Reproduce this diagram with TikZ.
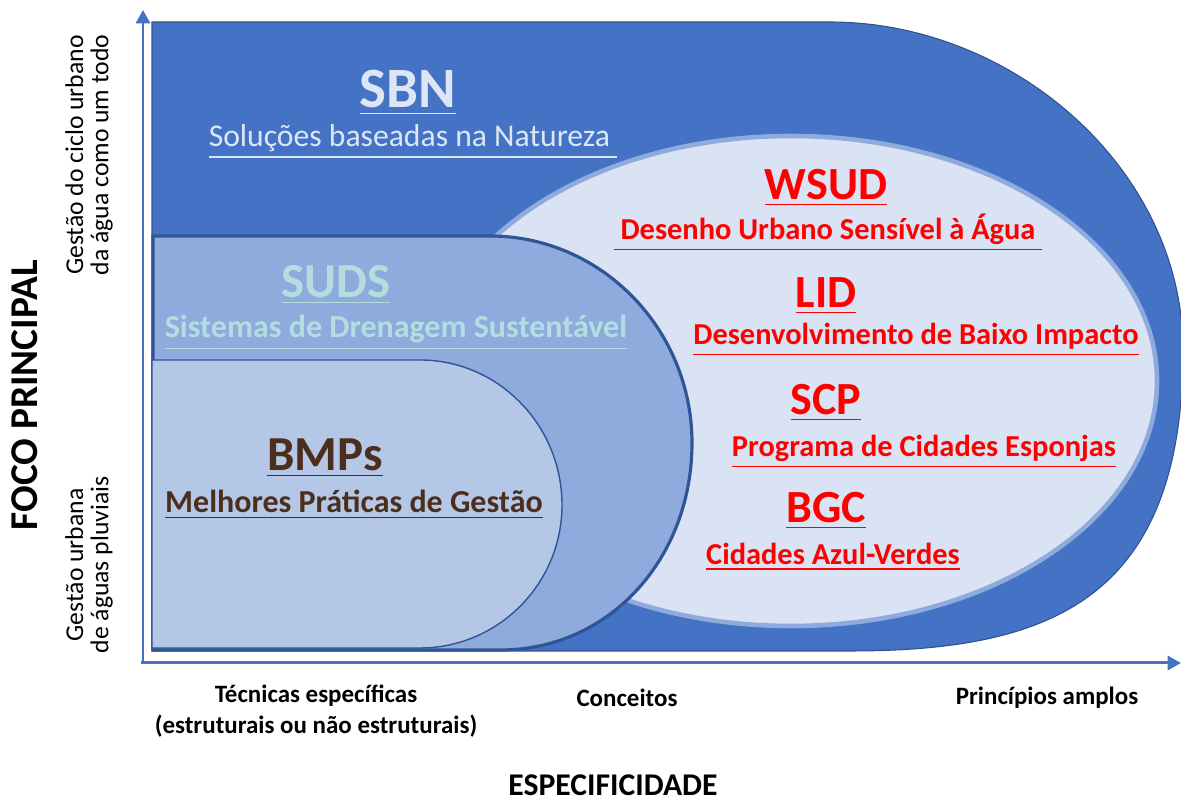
\documentclass[tikz,border=0pt]{standalone}
\usepackage{fontspec}
\setmainfont{Carlito}
\usetikzlibrary{arrows.meta, positioning}
\definecolor{sbnblue}{HTML}{4472C4}
\definecolor{sbnedge}{HTML}{2F528F}
\definecolor{sudsfill}{HTML}{8FAADC}
\definecolor{sudsedge}{HTML}{2F5597}
\definecolor{bmpsfill}{HTML}{B4C7E7}
\definecolor{wsudfill}{HTML}{DAE3F3}
\definecolor{wsudedge}{HTML}{8FAADC}
\definecolor{sbntext}{HTML}{DDE6F5}
\definecolor{sudstext}{HTML}{B3DEE0}
\definecolor{bmpstext}{HTML}{4B2E1B}
\tikzset{
    bigtitle/.style={font=\fontsize{16.2}{18}\selectfont\bfseries, inner sep=0pt},
    midtitle/.style={font=\fontsize{13.9}{16}\selectfont\bfseries, inner sep=0pt},
    redtitle/.style={font=\fontsize{13.1}{15}\selectfont\bfseries, text=red, inner sep=0pt},
    subtitle/.style={font=\fontsize{9.1}{11}\selectfont\bfseries, inner sep=0pt},
    redsub/.style={subtitle, font=\fontsize{8.65}{10}\selectfont\bfseries, text=red},
    axislabel/.style={font=\fontsize{7.1}{8.9}\selectfont\bfseries, align=center, inner sep=0pt},
    sidelabel/.style={font=\fontsize{7.3}{7.2}\selectfont, align=center, rotate=90, inner sep=0pt},
    axisline/.style={draw=sbnblue, line width=0.85pt, -{Triangle[length=3.8pt, width=4pt]}},
}
\begin{document}
\begin{tikzpicture}[x=0.01cm, y=-0.01cm]
    \useasboundingbox (0,0) rectangle (1181,798);

    % SBN
    \filldraw[fill=sbnblue, draw=sbnedge, line width=0.3pt] (152,22) -- (830,22)
        .. controls (1014,22) and (1183,170) .. (1183,350)
        .. controls (1183,600) and (1050,651) .. (850,651) -- (152,651) -- cycle;

    % WSUD / LID / SCP / BGC
    \filldraw[fill=wsudfill, draw=wsudedge, line width=1.3pt] (791,381) ellipse [x radius=366, y radius=245];

    % SUDS
    \filldraw[fill=sudsfill, draw=sudsedge, line width=0.9pt] (153,236) -- (490,236)
        .. controls (601,236) and (692,329) .. (692,443)
        .. controls (692,557) and (611,650) .. (500,650) -- (153,650) -- cycle;

    % BMPs
    \filldraw[fill=bmpsfill, draw=sudsedge, line width=0.4pt] (152,360) -- (420,360)
        .. controls (498,360) and (562,425) .. (562,505)
        .. controls (562,584) and (498,648) .. (420,648) -- (152,648) -- cycle;

    \node[bigtitle, text=sbntext] (sbn) at (408,93) {\underline{SBN}};
    \node[font=\fontsize{9}{11}\selectfont, text=sbntext, inner sep=0pt] (sbnsub) at (413,142) {\underline{Soluções baseadas na Natureza\ }};

    \node[midtitle, text=sudstext] (suds) at (336,285) {\underline{SUDS}};
    \node[subtitle, text=sudstext] (sudssub) at (396,333) {\underline{Sistemas de Drenagem Sustentável}};

    \node[midtitle, text=bmpstext] (bmps) at (325,458) {\underline{BMPs}};
    \node[subtitle, text=bmpstext] (bmpssub) at (354,505) {\underline{Melhores Práticas de Gestão}};

    \node[redtitle] (wsud) at (826,188) {\underline{WSUD}};
    \node[redsub] (wsudsub) at (828,233) {\underline{\ Desenho Urbano Sensível à Água\ }};
    \node[redtitle] (lid) at (826,296) {\underline{LID}};
    \node[redsub] (lidsub) at (916,340) {\underline{Desenvolvimento de Baixo Impacto}};
    \node[redtitle] (scp) at (826,403) {\underline{SCP}};
    \node[redsub] (scpsub) at (924,452) {\underline{Programa de Cidades Esponjas}};
    \node[redtitle] (bgc) at (826,511) {\underline{BGC}};
    \node[redsub] (bgcsub) at (833,557) {\underline{Cidades Azul-Verdes}};

    % eixos
    \coordinate (origin) at (143,663);
    \coordinate (ytip) at (143,10);
    \coordinate (xtip) at (1181,663);
    \draw[axisline] (origin) -- (ytip);
    \draw[axisline] ([xshift=-0.5pt]origin) -- (xtip);

    \node[axislabel] (tecnicas) at (316,711) {Técnicas específicas\\(estruturais ou não estruturais)};
    \node[axislabel] (conceitos) at (627,698) {Conceitos};
    \node[axislabel] (principios) at (1047,698) {Princípios amplos};
    \node[font=\fontsize{9}{11}\selectfont\bfseries, inner sep=0pt] (especif) at (613,785) {ESPECIFICIDADE};

    \node[font=\fontsize{11.2}{13}\selectfont\bfseries, rotate=90, inner sep=0pt] (foco) at (25,395) {FOCO PRINCIPAL};
    \node[sidelabel] (ciclo) at (89,155) {Gestão do ciclo urbano\\da água como um todo};
    \node[sidelabel] (pluviais) at (89,565) {Gestão urbana\\de águas pluviais};
\end{tikzpicture}
\end{document}
